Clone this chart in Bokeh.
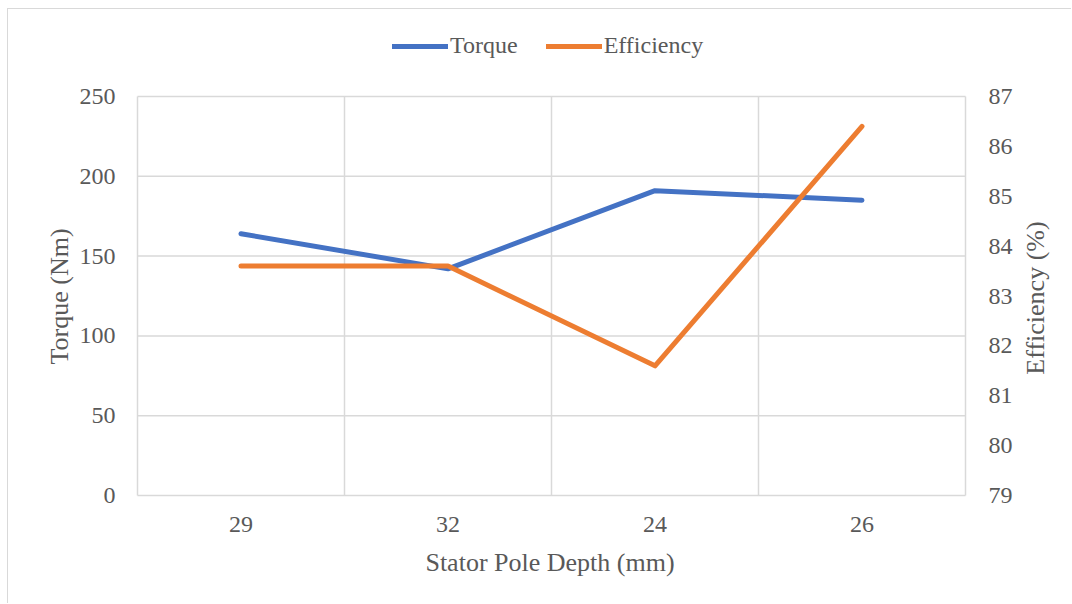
import math

from bokeh.plotting import figure
from bokeh.models import (Range1d, LinearAxis, FixedTicker, Legend, LegendItem,
                          Label)
from bokeh.embed import file_html
from bokeh.resources import INLINE

# Stator pole depth variants (mm) and the measured results
depths = ["29", "32", "24", "26"]
torque = [164, 142, 191, 185]          # Nm
efficiency = [83.6, 83.6, 81.6, 86.4]  # %

torque_ticks = [0, 50, 100, 150, 200, 250]
eff_ticks = [79, 80, 81, 82, 83, 84, 85, 86, 87]

FONT = "Liberation Serif"
GREY = "#595959"
GRID = "#d9d9d9"
BLUE = "#4472C4"
ORANGE = "#ED7D31"

# canvas and plot-area geometry (pixels, from the canvas top-left)
W, H = 1064, 595
AREA_L, AREA_R = 129, 957
AREA_T, AREA_B = 87, 486

n = len(depths)
xs = [i + 0.5 for i in range(n)]
bounds = list(range(n + 1))
t_lo, t_hi = torque_ticks[0], torque_ticks[-1]
e_lo, e_hi = eff_ticks[0], eff_ticks[-1]


def full_range(lo, hi, px_lo, px_hi, px_total):
    """Range spanning the whole canvas such that lo..hi lands on px_lo..px_hi."""
    per_px = (hi - lo) / (px_hi - px_lo)
    return Range1d(lo - px_lo * per_px, hi + (px_total - px_hi) * per_px)


# The frame covers the whole canvas; axes are pinned to the plot-area edges.
p = figure(width=W, height=H, output_backend="svg", toolbar_location=None,
           x_range=full_range(0, n, AREA_L, AREA_R, W),
           y_range=full_range(t_lo, t_hi, H - AREA_B, H - AREA_T, H),
           min_border=0, y_axis_location=None, x_axis_location=None)
p.extra_y_ranges = {"eff": full_range(e_lo, e_hi, H - AREA_B, H - AREA_T, H)}
p.outline_line_color = None
p.background_fill_color = "white"
p.border_fill_color = "white"
p.xgrid.grid_line_color = None
p.ygrid.grid_line_color = None
# light frame around the whole chart (left and top edges visible)
p.margin = (8, 0, 0, 7)
p.styles = {"border-left": f"1px solid {GRID}", "border-top": f"1px solid {GRID}"}

# gridlines: horizontal at torque ticks, vertical at category boundaries
p.segment(x0=[bounds[0]] * len(torque_ticks), y0=torque_ticks,
          x1=[bounds[-1]] * len(torque_ticks), y1=torque_ticks,
          line_color=GRID, line_width=1.5)
p.segment(x0=bounds, y0=[t_lo] * len(bounds), x1=bounds, y1=[t_hi] * len(bounds),
          line_color=GRID, line_width=1.5)


def style_axis(ax):
    ax.axis_line_color = None
    ax.major_tick_line_color = None
    ax.minor_tick_line_color = None
    ax.major_label_text_font = FONT
    ax.major_label_text_font_size = "24px"
    ax.major_label_text_color = GREY


xaxis = LinearAxis(ticker=FixedTicker(ticks=xs), fixed_location=t_lo,
                   major_label_overrides={x: d for x, d in zip(xs, depths)})
style_axis(xaxis)
xaxis.major_label_standoff = 15
p.add_layout(xaxis, "below")

yaxis = LinearAxis(ticker=FixedTicker(ticks=torque_ticks), fixed_location=bounds[0])
style_axis(yaxis)
yaxis.major_label_standoff = 16
p.add_layout(yaxis, "left")

raxis = LinearAxis(y_range_name="eff", ticker=FixedTicker(ticks=eff_ticks),
                   fixed_location=bounds[-1])
style_axis(raxis)
raxis.major_label_standoff = 17
p.add_layout(raxis, "right")

r_t = p.line(xs, torque, line_color=BLUE, line_width=5, line_cap="round",
             line_join="round")
r_e = p.line(xs, efficiency, y_range_name="eff", line_color=ORANGE, line_width=5,
             line_cap="round", line_join="round")

# axis titles
title_style = dict(x_units="screen", y_units="screen", text_font=FONT,
                   text_font_size="26px", text_color=GREY, text_align="center",
                   text_baseline="middle")
p.add_layout(Label(x=50.5, y=308, angle=math.pi / 2, text="Torque (Nm)",
                   **title_style))
p.add_layout(Label(x=1027, y=306.5, angle=math.pi / 2, text="Efficiency (%)",
                   **title_style))
p.add_layout(Label(x=541.5, y=42.5, text="Stator Pole Depth (mm)", **title_style))

legend = Legend(items=[LegendItem(label="Torque", renderers=[r_t]),
                       LegendItem(label="Efficiency", renderers=[r_e])],
                orientation="horizontal", location=(384, 545),
                label_text_font=FONT, label_text_font_size="24px",
                label_text_color=GREY, glyph_width=56, glyph_height=20,
                label_standoff=2, spacing=28, padding=0, margin=0,
                border_line_color=None, background_fill_alpha=0)
p.add_layout(legend, "center")

open("out.html", "w").write(file_html(p, INLINE))
